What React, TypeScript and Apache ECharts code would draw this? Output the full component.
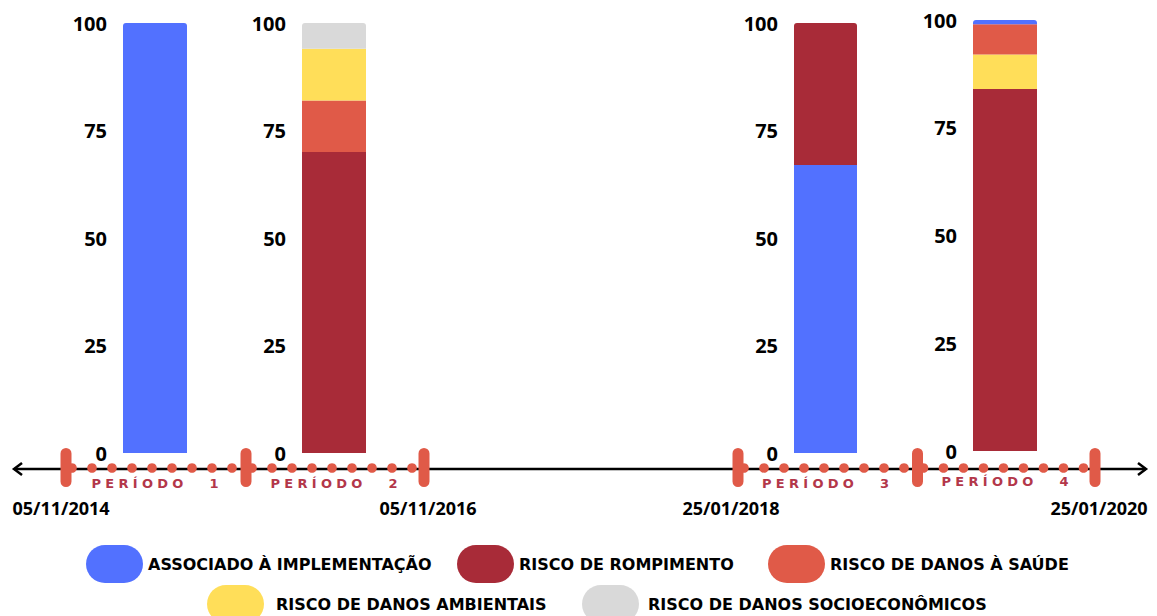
import React, { useEffect, useRef } from 'react';
import * as echarts from 'echarts';

// ---- data ----
const periods = ['PERÍODO 1', 'PERÍODO 2', 'PERÍODO 3', 'PERÍODO 4'];
const dates = ['05/11/2014', '05/11/2016', '25/01/2018', '25/01/2020'];
const categories = [
  'ASSOCIADO À IMPLEMENTAÇÃO',
  'RISCO DE ROMPIMENTO',
  'RISCO DE DANOS À SAÚDE',
  'RISCO DE DANOS AMBIENTAIS',
  'RISCO DE DANOS SOCIOECONÔMICOS',
];
const implementacao = [100, 0, 67, 1];
const rompimento = [0, 70, 33, 84];
const saude = [0, 12, 0, 7];
const ambientais = [0, 12, 0, 8];
const socioeconomicos = [0, 6, 0, 0];
const seriesValues = [implementacao, rompimento, saude, ambientais, socioeconomicos];
// stacking order (bottom -> top) of the categories in each period
const stackOrder = [
  [0, 1, 2, 3, 4],
  [1, 2, 3, 4, 0],
  [0, 1, 2, 3, 4],
  [1, 3, 2, 0, 4],
];
const yMin = 0;
const yMax = 100;
const yInterval = 25;

// ---- styles / layout ----
const colors = ['#5271FF', '#A82B38', '#E05A48', '#FFDE59', '#D9D9D9'];
const FONT = '"Open Sans", "DejaVu Sans", sans-serif';
const WIDE = '"DejaVu Sans", sans-serif';
const grids = [
  { left: 123, top: 23, width: 64, height: 430 },
  { left: 302, top: 23, width: 64, height: 430 },
  { left: 794, top: 23, width: 63, height: 430 },
  { left: 973, top: 20, width: 64, height: 431 },
];
const legendPos = [
  { left: 86, top: 545, pad: 0 },
  { left: 457, top: 545, pad: 0 },
  { left: 768, top: 545, pad: 0 },
  { left: 207, top: 585, pad: 7 },
  { left: 582, top: 585, pad: 4 },
];
const markerX = [66, 246, 424, 738, 917.5, 1095];
const dotSegments = [[0, 1], [1, 2], [3, 4], [4, 5]];
const dateX = [61, 428, 731, 1099];
const PILL = 'path://M19,0 L38,0 A19,19 0 0 1 38,38 L19,38 A19,19 0 0 1 19,0 Z';

function spaced(v: string) {
  const parts = v.split(' ');
  return parts[0].split('').join('\u2004') + '\u2002\u2003\u2002' + parts[1];
}

export default function App() {
  const ref = useRef<HTMLDivElement>(null);
  useEffect(() => {
    if (!ref.current) return;
    const chart = echarts.init(ref.current, null, { renderer: 'svg' });

    const series: any[] = [];
    grids.forEach((_, g) => {
      const order = stackOrder[g];
      let topIdx = -1;
      order.forEach((c) => {
        if (seriesValues[c][g] > 0) topIdx = c;
      });
      order.forEach((c) => {
        series.push({
          type: 'bar',
          name: categories[c],
          xAxisIndex: g,
          yAxisIndex: g,
          stack: 'p' + g,
          barWidth: '100%',
          itemStyle: {
            color: colors[c],
            borderRadius: c === topIdx ? [3, 3, 0, 0] : 0,
          },
          data: [seriesValues[c][g]],
        });
      });
    });

    const graphic: any[] = [];
    graphic.push({
      type: 'line',
      shape: { x1: 14, y1: 469, x2: 1146, y2: 469 },
      style: { stroke: '#000', lineWidth: 2.5 },
    });
    graphic.push({
      type: 'polyline',
      shape: { points: [[22, 463], [14, 469], [22, 475]] },
      style: { stroke: '#000', lineWidth: 2.5, fill: 'none' },
    });
    graphic.push({
      type: 'polyline',
      shape: { points: [[1138, 463], [1146, 469], [1138, 475]] },
      style: { stroke: '#000', lineWidth: 2.5, fill: 'none' },
    });
    dotSegments.forEach(([a]) => {
      for (let i = 0; i < 9; i++) {
        graphic.push({
          type: 'circle',
          shape: { cx: markerX[a] + 6 + 20 * i, cy: 468, r: 4.8 },
          style: { fill: '#E05A48' },
        });
      }
    });
    markerX.forEach((x) => {
      graphic.push({
        type: 'rect',
        shape: { x: x - 5.5, y: 448, width: 11, height: 39, r: 5.5 },
        style: { fill: '#E05A48' },
      });
    });
    dates.forEach((d, i) => {
      graphic.push({
        type: 'text',
        x: dateX[i],
        y: 508,
        style: {
          text: d,
          fill: '#000',
          font: 'bold 18px ' + FONT,
          align: 'center',
          verticalAlign: 'middle',
        },
      });
    });

    chart.setOption({
      animation: false,
      backgroundColor: '#fff',
      grid: grids.map((g) => ({ ...g })),
      xAxis: grids.map((_, g) => ({
        type: 'category',
        gridIndex: g,
        data: [periods[g]],
        axisLine: { show: false },
        axisTick: { show: false },
        axisLabel: {
          formatter: spaced,
          color: '#B3374A',
          fontSize: 13,
          fontWeight: 'bold',
          fontFamily: WIDE,
          margin: 24,
        },
      })),
      yAxis: grids.map((_, g) => ({
        type: 'value',
        gridIndex: g,
        min: yMin,
        max: yMax,
        interval: yInterval,
        axisLine: { show: false },
        axisTick: { show: false },
        splitLine: { show: false },
        axisLabel: {
          color: '#000',
          fontSize: 20,
          fontWeight: 'bold',
          fontFamily: FONT,
          margin: 16,
        },
      })),
      legend: categories.map((name, i) => ({
        data: [name],
        left: legendPos[i].left,
        top: legendPos[i].top,
        padding: 0,
        icon: PILL,
        itemWidth: 57,
        itemHeight: 38,
        selectedMode: false,
        textStyle: {
          color: '#000',
          fontSize: 16,
          fontWeight: 'bold',
          fontFamily: WIDE,
          padding: [0, 0, 0, legendPos[i].pad],
        },
      })),
      series,
      graphic,
    });
    return () => chart.dispose();
  }, []);
  return (
    <div
      ref={ref}
      style={{ position: 'fixed', left: 0, top: 0, width: 1157, height: 616 }}
    />
  );
}
